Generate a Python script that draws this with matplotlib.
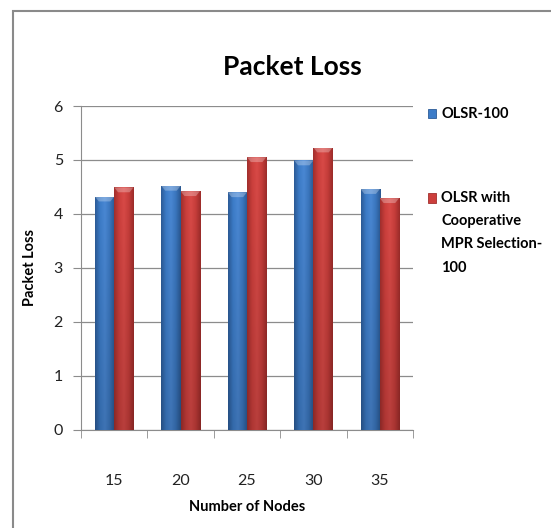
import matplotlib.pyplot as plt
import numpy as np
from matplotlib.colors import LinearSegmentedColormap
from matplotlib.patches import Rectangle

plt.rcParams['font.family'] = ['Lato', 'DejaVu Sans']

nodes = ['15', '20', '25', '30', '35']
olsr = [4.32, 4.52, 4.40, 4.99, 4.46]
coop = [4.49, 4.42, 5.05, 5.23, 4.29]
series_names = ['OLSR-100', 'OLSR with\nCooperative\nMPR Selection-\n100']

BLUE = ['#2c5b97', '#3c7cc8', '#4a88d4', '#3a76be', '#2a5790']
RED = ['#a12f2d', '#cc3f3c', '#d94a47', '#c63d3a', '#9c2c2a']
GRID = '#8c8c8c'


def shade_bar(ax, bar, colors):
    # horizontal shading across the bar, darker toward the bottom
    x0, y0 = bar.get_x(), bar.get_y()
    w, h = bar.get_width(), bar.get_height()
    cmap = LinearSegmentedColormap.from_list('bar', colors)
    horiz = cmap(np.linspace(0, 1, 64))[None, :, :3]
    vert = np.linspace(0.85, 1.0, 64)[:, None, None]
    img = np.clip(horiz * vert, 0, 1)
    im = ax.imshow(img, extent=(x0, x0 + w, y0, y0 + h), origin='lower',
                   aspect='auto', zorder=3, interpolation='bilinear')
    im.set_clip_path(bar)
    # lighter bevel at the top of each bar
    cap = 0.09
    top = np.array([[x0, y0 + h], [x0 + w, y0 + h],
                    [x0 + w * 0.8, y0 + h - cap], [x0 + w * 0.2, y0 + h - cap]])
    ax.fill(top[:, 0], top[:, 1], color='white', alpha=0.28, lw=0, zorder=4)


fig = plt.figure(figsize=(5.51, 5.28), dpi=100)
fig.patches.append(Rectangle((13 / 551, -0.1), 1.2, 1 - 10.5 / 528 + 0.1,
                             transform=fig.transFigure, fill=False,
                             edgecolor='#8a8a8a', lw=1.5))

ax = fig.add_axes([81 / 551, 1 - 429.5 / 528, 332 / 551, 323.5 / 528])
x = np.arange(len(nodes))
width = 0.29
b1 = ax.bar(x - width / 2, olsr, width, color=BLUE[2], zorder=2)
b2 = ax.bar(x + width / 2, coop, width, color=RED[2], zorder=2)
for bar in b1:
    shade_bar(ax, bar, BLUE)
for bar in b2:
    shade_bar(ax, bar, RED)

ax.set_xlim(-0.5, len(nodes) - 0.5)
ax.set_ylim(0, 6)
ax.set_yticks(range(7))
ax.set_xticks(x)
ax.set_xticklabels(nodes)
ax.set_xticks(np.arange(len(nodes) + 1) - 0.5, minor=True)
ax.tick_params(axis='x', which='major', length=0, pad=32, labelsize=11.5,
               labelcolor='#222222')
ax.tick_params(axis='x', which='minor', length=6, color=GRID, direction='out')
ax.tick_params(axis='y', length=6, color=GRID, labelsize=11.5, pad=7,
               labelcolor='#222222')
ax.yaxis.grid(True, color=GRID, lw=0.9, zorder=0)
ax.set_axisbelow(True)
for side in ['top', 'right']:
    ax.spines[side].set_visible(False)
for side in ['left', 'bottom']:
    ax.spines[side].set_color(GRID)

ax.set_ylabel('Packet Loss', fontsize=10.5, fontweight='bold', labelpad=12)
ax.set_xlabel('Number of Nodes', fontsize=10.5, fontweight='bold', labelpad=9)
fig.text(292 / 551, 1 - 67 / 528, 'Packet Loss', fontsize=19, fontweight='bold',
         ha='center', va='center')

# legend entries on the right
legend_y = [114, 198]
for name, ys, cols in zip(series_names, legend_y, [BLUE, RED]):
    fig.patches.append(Rectangle((428 / 551, 1 - (ys + 4.5) / 528), 8 / 551, 9 / 528,
                                 transform=fig.transFigure, facecolor=cols[1],
                                 edgecolor=cols[0], lw=0.6))
    fig.text(441 / 551, 1 - (ys - 7.5) / 528, name, fontsize=10.5, fontweight='bold',
             ha='left', va='top', linespacing=1.85)

fig.savefig('out.png', dpi=100)
